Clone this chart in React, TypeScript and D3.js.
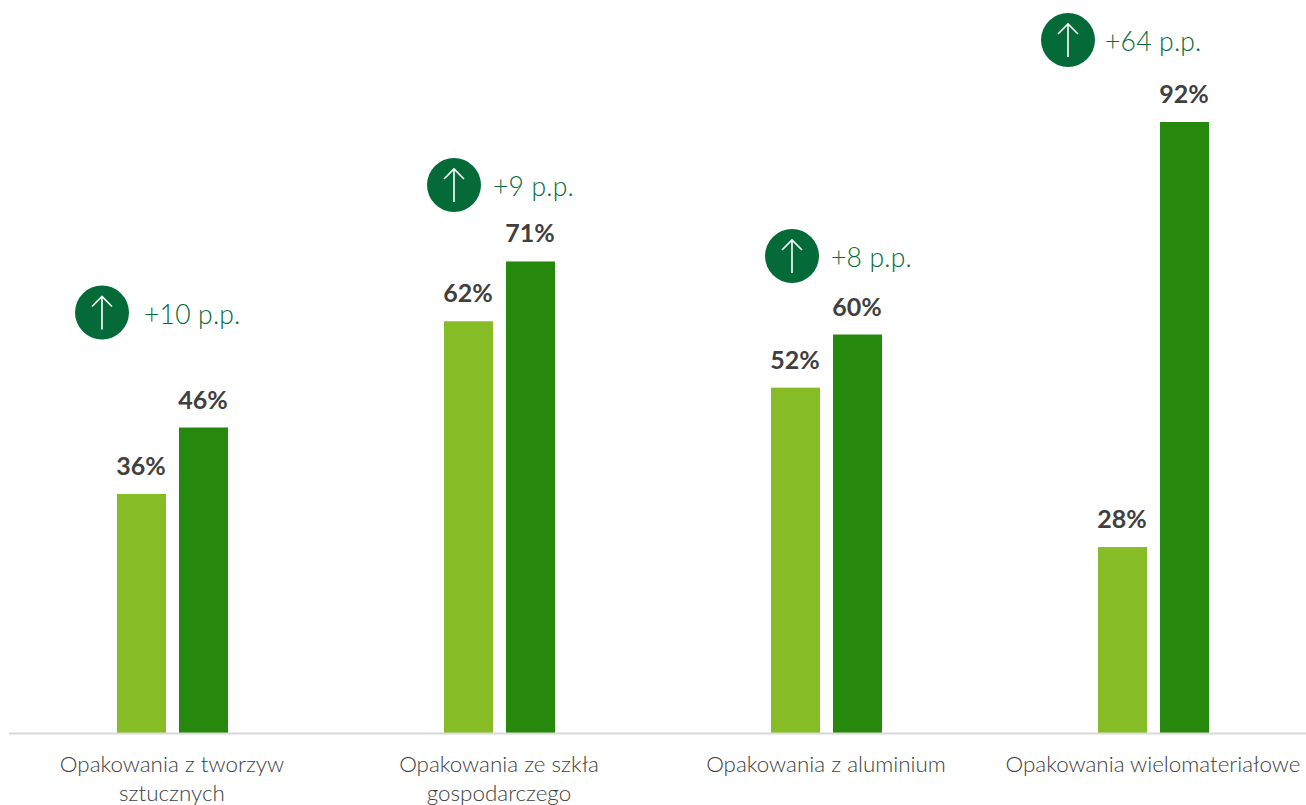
import React from "react";
import * as d3 from "d3";

const categories = [
  ["Opakowania z tworzyw", "sztucznych"],
  ["Opakowania ze szkła", "gospodarczego"],
  ["Opakowania z aluminium"],
  ["Opakowania wielomateriałowe"],
];
const earlierValues = [36, 62, 52, 28];
const laterValues = [46, 71, 60, 92];
const changeLabels = ["+10 p.p.", "+9 p.p.", "+8 p.p.", "+64 p.p."];

// Placement of the change badges, relative to each group's centre.
const badgeDx = [-70.5, -45.5, -34.5, -85.5];
const badgeY = [312.5, 185, 256, 40];
const badgeTextDx = [42, 39, 39, 37];

const W = 1306;
const H = 805;
const baseline = 733;
const barW = 49;
const barGap = 13;
const FONT = "Lato, 'Open Sans', sans-serif";

const x = d3
  .scaleBand<number>()
  .domain(d3.range(categories.length))
  .range([9, 1317]);
const y = d3.scaleLinear().domain([0, 92]).range([baseline, 122]);

const arrow = d3.line();

export default function App() {
  return (
    <svg
      width={W}
      height={H}
      viewBox={`0 0 ${W} ${H}`}
      style={{ position: "absolute", left: 0, top: 0, background: "#fff" }}
      fontFamily={FONT}
    >
      {categories.map((lines, i) => {
        const cx = x(i)! + x.bandwidth() / 2;
        const bars = [
          { v: earlierValues[i], left: cx - barGap / 2 - barW, fill: "#86BC25" },
          { v: laterValues[i], left: cx + barGap / 2, fill: "#26890D" },
        ];
        const bx = cx + badgeDx[i];
        const by = badgeY[i];
        return (
          <g key={i}>
            {bars.map((b) => (
              <g key={b.left}>
                <rect x={b.left} y={y(b.v)} width={barW} height={baseline - y(b.v)} fill={b.fill} />
                <text
                  x={b.left + barW / 2 - 0.5}
                  y={y(b.v) - 19}
                  textAnchor="middle"
                  fontSize={25}
                  fontWeight={700}
                  fill="#404040"
                >
                  {b.v}%
                </text>
              </g>
            ))}
            <circle cx={bx} cy={by} r={27} fill="#046A38" />
            <path
              d={arrow([[bx, by + 17], [bx, by - 16]])!}
              stroke="#fff"
              strokeWidth={1.6}
              fill="none"
            />
            <path
              d={arrow([[bx - 10, by - 6], [bx, by - 16], [bx + 10, by - 6]])!}
              stroke="#fff"
              strokeWidth={1.6}
              fill="none"
            />
            <text
              x={bx + badgeTextDx[i]}
              y={by + 11}
              fontSize={26.5}
              fontWeight={300}
              letterSpacing={0.2}
              fill="#046A38"
            >
              {changeLabels[i]}
            </text>
            <text
              x={cx - 0.5}
              textAnchor="middle"
              fontSize={22.4}
              fontWeight={300}
              fill="#404040"
            >
              {lines.map((line, k) => (
                <tspan key={k} x={cx - 0.5} y={772 + k * 29}>
                  {line}
                </tspan>
              ))}
            </text>
          </g>
        );
      })}
      <line x1={9} x2={W} y1={baseline + 0.5} y2={baseline + 0.5} stroke="#D9D9D9" strokeWidth={2} />
    </svg>
  );
}
